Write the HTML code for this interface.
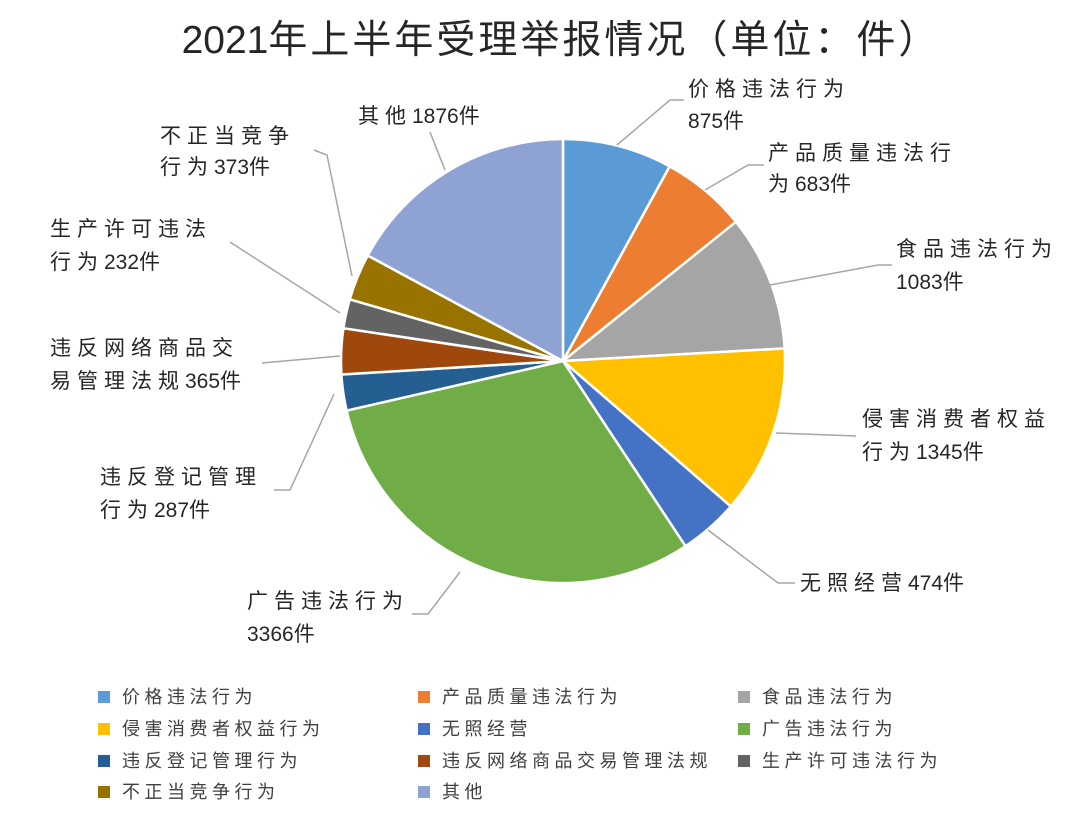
<!DOCTYPE html>
<html><head><meta charset="utf-8"><style>
html,body{margin:0;padding:0;background:#fff;}
svg{display:block;font-family:"Liberation Sans","Noto Sans CJK SC",sans-serif;}
</style></head><body>
<svg width="1082" height="814" viewBox="0 0 1082 814" xmlns="http://www.w3.org/2000/svg">
<text x="561" y="53" text-anchor="middle" font-size="39" fill="#262626" letter-spacing="3"><tspan letter-spacing="0">2021</tspan>年上半年受理举报情况（单位：件）</text>
<g stroke="#fff" stroke-width="2.5">
<path d="M563,361L563,139A222,222 0 0 1 669.7,166.35Z" fill="#5B9BD5"/>
<path d="M563,361L669.7,166.35A222,222 0 0 1 735.96,221.83Z" fill="#ED7D31"/>
<path d="M563,361L735.96,221.83A222,222 0 0 1 784.65,348.45Z" fill="#A5A5A5"/>
<path d="M563,361L784.65,348.45A222,222 0 0 1 730.77,506.41Z" fill="#FFC000"/>
<path d="M563,361L730.77,506.41A222,222 0 0 1 685.5,546.15Z" fill="#4472C4"/>
<path d="M563,361L685.5,546.15A222,222 0 0 1 346.62,410.64Z" fill="#70AD47"/>
<path d="M563,361L346.62,410.64A222,222 0 0 1 341.41,374.52Z" fill="#255E91"/>
<path d="M563,361L341.41,374.52A222,222 0 0 1 343.44,328.19Z" fill="#9E480E"/>
<path d="M563,361L343.44,328.19A222,222 0 0 1 349.73,299.36Z" fill="#636363"/>
<path d="M563,361L349.73,299.36A222,222 0 0 1 367.67,255.48Z" fill="#997300"/>
<path d="M563,361L367.67,255.48A222,222 0 0 1 563,139Z" fill="#8FA2D4"/>
</g>
<g fill="none" stroke="#A6A6A6" stroke-width="1.5">
<polyline points="617,145 670,100 684,100"/>
<polyline points="705,190 748,165 764,165"/>
<polyline points="770,285 878,265 892,265"/>
<polyline points="776,433 856,436"/>
<polyline points="708,530 778,583 795,583"/>
<polyline points="460,572 428,614 412,614"/>
<polyline points="334,394 290,490 274,490"/>
<polyline points="340,356 262,363"/>
<polyline points="340,313 230,242"/>
<polyline points="352,276 327,155 314,150"/>
<polyline points="445,170 430,132"/>
</g>
<g font-size="21" fill="#262626" letter-spacing="6">
<text x="688" y="96">价格违法行为</text><text x="688" y="128"><tspan letter-spacing="0">875</tspan>件</text>
<text x="768" y="160">产品质量违法行</text><text x="768" y="191">为<tspan letter-spacing="0">683</tspan>件</text>
<text x="896" y="256">食品违法行为</text><text x="896" y="289"><tspan letter-spacing="0">1083</tspan>件</text>
<text x="862" y="426">侵害消费者权益</text><text x="862" y="459">行为<tspan letter-spacing="0">1345</tspan>件</text>
<text x="800" y="590">无照经营<tspan letter-spacing="0">474</tspan>件</text>
<text x="247" y="608">广告违法行为</text><text x="247" y="641"><tspan letter-spacing="0">3366</tspan>件</text>
<text x="100" y="484">违反登记管理</text><text x="100" y="517">行为<tspan letter-spacing="0">287</tspan>件</text>
<text x="50" y="355">违反网络商品交</text><text x="50" y="388">易管理法规<tspan letter-spacing="0">365</tspan>件</text>
<text x="50" y="236">生产许可违法</text><text x="50" y="269">行为<tspan letter-spacing="0">232</tspan>件</text>
<text x="160" y="143">不正当竞争</text><text x="160" y="174">行为<tspan letter-spacing="0">373</tspan>件</text>
<text x="358" y="123">其他<tspan letter-spacing="0">1876</tspan>件</text>
</g>
<g font-size="18" fill="#404040" letter-spacing="4.5">
<rect x="98" y="691" width="12" height="12" fill="#5B9BD5"/><text x="122" y="703">价格违法行为</text>
<rect x="418" y="691" width="12" height="12" fill="#ED7D31"/><text x="442" y="703">产品质量违法行为</text>
<rect x="738" y="691" width="12" height="12" fill="#A5A5A5"/><text x="762" y="703">食品违法行为</text>
<rect x="98" y="723" width="12" height="12" fill="#FFC000"/><text x="122" y="735">侵害消费者权益行为</text>
<rect x="418" y="723" width="12" height="12" fill="#4472C4"/><text x="442" y="735">无照经营</text>
<rect x="738" y="723" width="12" height="12" fill="#70AD47"/><text x="762" y="735">广告违法行为</text>
<rect x="98" y="755" width="12" height="12" fill="#255E91"/><text x="122" y="767">违反登记管理行为</text>
<rect x="418" y="755" width="12" height="12" fill="#9E480E"/><text x="442" y="767">违反网络商品交易管理法规</text>
<rect x="738" y="755" width="12" height="12" fill="#636363"/><text x="762" y="767">生产许可违法行为</text>
<rect x="98" y="786" width="12" height="12" fill="#997300"/><text x="122" y="798">不正当竞争行为</text>
<rect x="418" y="786" width="12" height="12" fill="#8FA2D4"/><text x="442" y="798">其他</text>
</g>
</svg>
</body></html>
